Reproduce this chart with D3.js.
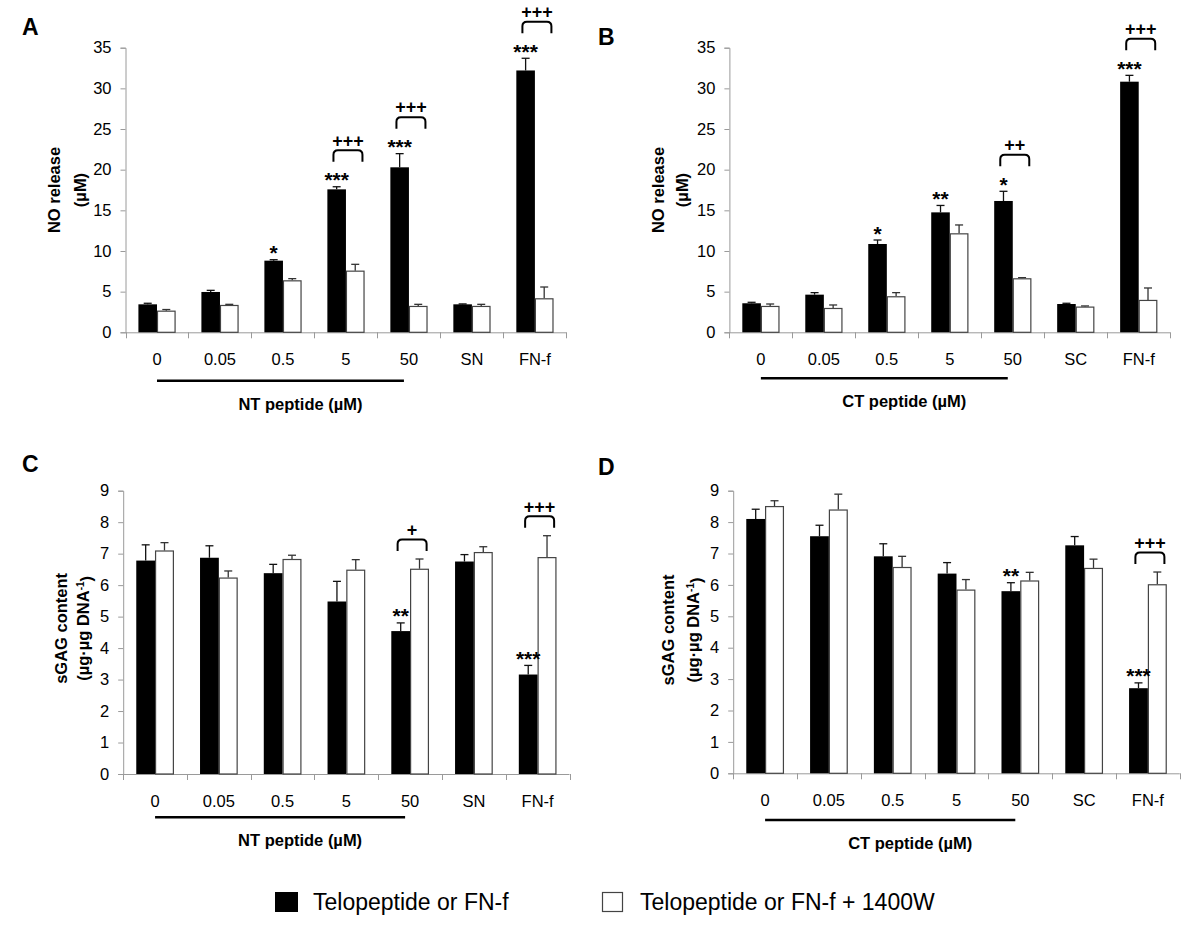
<!DOCTYPE html>
<html><head><meta charset="utf-8">
<script src="https://cdn.jsdelivr.net/npm/d3@7/dist/d3.min.js"></script>
<style>
body{margin:0;background:#fff;}
text{font-family:"Liberation Sans",Arial,Helvetica,sans-serif;fill:#000;}
</style>
</head><body>
<svg id="chart" width="1200" height="925"></svg>
<script>
// ---------- DATA ----------
const catsNT = ["0", "0.05", "0.5", "5", "50", "SN", "FN-f"];
const catsCT = ["0", "0.05", "0.5", "5", "50", "SC", "FN-f"];

const noTicks = [0, 5, 10, 15, 20, 25, 30, 35];
const gagTicks = [0, 1, 2, 3, 4, 5, 6, 7, 8, 9];

// Panel A: NO release, NT peptide
const aBlack = [3.44, 4.96, 8.81, 17.58, 20.29, 3.44, 32.2];
const aBlackErr = [0.13, 0.2, 0.12, 0.32, 1.68, 0.05, 1.5];
const aWhite = [2.66, 3.36, 6.39, 7.58, 3.24, 3.24, 4.18];
const aWhiteErr = [0.14, 0.08, 0.21, 0.78, 0.2, 0.2, 1.39];
const aStars = ["", "", "*", "***", "***", "", "***"];
const aPlus = ["", "", "", "+++", "+++", "", "+++"];

// Panel B: NO release, CT peptide
const bBlack = [3.57, 4.63, 10.86, 14.75, 16.15, 3.48, 30.82];
const bBlackErr = [0.12, 0.25, 0.49, 0.85, 1.19, 0.09, 0.78];
const bWhite = [3.24, 2.99, 4.43, 12.17, 6.64, 3.16, 3.98];
const bWhiteErr = [0.24, 0.37, 0.45, 1.03, 0.08, 0.08, 1.47];
const bStars = ["", "", "*", "**", "*", "", "***"];
const bPlus = ["", "", "", "", "++", "", "+++"];

// Panel C: sGAG content, NT peptide
const cBlack = [6.78, 6.87, 6.38, 5.48, 4.54, 6.75, 3.16];
const cBlackErr = [0.5, 0.38, 0.28, 0.64, 0.26, 0.22, 0.29];
const cWhite = [7.1, 6.24, 6.83, 6.49, 6.52, 7.05, 6.89];
const cWhiteErr = [0.25, 0.21, 0.12, 0.32, 0.31, 0.17, 0.68];
const cStars = ["", "", "", "", "**", "", "***"];
const cPlus = ["", "", "", "", "+", "", "+++"];

// Panel D: sGAG content, CT peptide
const dBlack = [8.1, 7.55, 6.91, 6.36, 5.8, 7.26, 2.71];
const dBlackErr = [0.31, 0.35, 0.4, 0.35, 0.27, 0.28, 0.17];
const dWhite = [8.51, 8.4, 6.57, 5.85, 6.14, 6.54, 6.02];
const dWhiteErr = [0.17, 0.49, 0.34, 0.32, 0.26, 0.28, 0.39];
const dStars = ["", "", "", "", "**", "", "***"];
const dPlus = ["", "", "", "", "", "", "+++"];

const legendLabels = ["Telopeptide or FN-f", "Telopeptide or FN-f + 1400W"];

// ---------- DRAW ----------
const svg = d3.select("#chart");
const AXIS = "#9a9a9a";
const FONT = "Liberation Sans, Arial, sans-serif";

function drawPanel(p) {
  const g = svg.append("g");
  const x = d3.scaleBand().domain(p.cats).range([p.x0, p.x1]).padding(0);
  const bw = x.bandwidth();
  const xs = d3.scaleBand().domain(["black", "white"]).range([bw * 0.205, bw * 0.795]).padding(0);
  const y = d3.scaleLinear().domain([0, p.max]).range([p.yZero, p.yTop]);

  // y axis
  const ya = g.append("g").attr("transform", `translate(${p.x0},0)`)
    .call(d3.axisLeft(y).tickValues(p.ticks).tickSize(5).tickPadding(9).tickFormat(d3.format("d")));
  ya.select(".domain").attr("stroke", AXIS);
  ya.selectAll(".tick line").attr("stroke", AXIS);
  ya.selectAll(".tick text").style("font-size", "16.5px").style("font-family", FONT).attr("fill", "#111");

  // x axis (labels)
  const xa = g.append("g").attr("transform", `translate(0,${p.yZero})`)
    .call(d3.axisBottom(x).tickSize(0).tickPadding(21));
  xa.select(".domain").remove();
  xa.selectAll(".tick text").style("font-size", "16.5px").style("font-family", FONT).attr("fill", "#111");
  // x axis line and boundary ticks
  g.append("line").attr("x1", p.x0).attr("x2", p.x1).attr("y1", p.yZero + 0.5).attr("y2", p.yZero + 0.5)
    .attr("stroke", AXIS);
  const bounds = p.cats.map(c => x(c)).concat([p.x1]);
  g.selectAll(".bt").data(bounds).enter().append("line")
    .attr("x1", d => Math.round(d) + 0.5).attr("x2", d => Math.round(d) + 0.5)
    .attr("y1", p.yZero).attr("y2", p.yZero + 6).attr("stroke", AXIS);

  const rows = p.cats.map((c, i) => ({c, i, b: p.black[i], be: p.blackErr[i], w: p.white[i], we: p.whiteErr[i], s: p.stars[i], pl: p.plus[i]}));

  function errBar(cx, v, e, color) {
    g.append("line").attr("x1", cx).attr("x2", cx).attr("y1", y(v)).attr("y2", y(v + e)).attr("stroke", color).attr("stroke-width", 1.3);
    g.append("line").attr("x1", cx - 4).attr("x2", cx + 4).attr("y1", y(v + e)).attr("y2", y(v + e)).attr("stroke", color).attr("stroke-width", 1.3);
  }
  rows.forEach(r => {
    const xb = x(r.c) + xs("black"), xw = x(r.c) + xs("white");
    errBar(xb + xs.bandwidth() / 2, r.b, r.be, "#111");
    errBar(xw + xs.bandwidth() / 2, r.w, r.we, "#333");
  });
  // bars
  g.selectAll(".bb").data(rows).enter().append("rect")
    .attr("x", d => x(d.c) + xs("black")).attr("width", xs.bandwidth())
    .attr("y", d => y(d.b)).attr("height", d => p.yZero - y(d.b)).attr("fill", "#000");
  g.selectAll(".wb").data(rows).enter().append("rect")
    .attr("x", d => x(d.c) + xs("white") + 0.5).attr("width", xs.bandwidth() - 1)
    .attr("y", d => y(d.w) + 0.5).attr("height", d => p.yZero - y(d.w) - 0.5)
    .attr("fill", "#fff").attr("stroke", "#444").attr("stroke-width", 1.2);

  // annotations
  rows.forEach(r => {
    const cxB = x(r.c) + xs("black") + xs.bandwidth() / 2;
    const cxC = x(r.c) + bw / 2 + 2;
    const bTop = y(r.b + r.be), wTop = y(r.w + r.we);
    let starC = null;
    if (r.s) {
      starC = bTop - 11;
      g.append("text").attr("x", cxB).attr("y", starC + 0.55 * 21).attr("text-anchor", "middle")
        .style("font-size", "21px").style("font-weight", "bold").text(r.s);
    }
    if (r.pl) {
      let yb = Math.min(wTop - 8, bTop - 8);
      if (starC !== null) yb = Math.min(yb, starC - 14);
      const yt = yb - 11.5, xl = cxC - 14.5, xr = cxC + 14.5, rr = 4.5;
      g.append("path")
        .attr("d", `M${xl},${yb} L${xl},${yt + rr} Q${xl},${yt} ${xl + rr},${yt} L${xr - rr},${yt} Q${xr},${yt} ${xr},${yt + rr} L${xr},${yb}`)
        .attr("fill", "none").attr("stroke", "#000").attr("stroke-width", 2);
      g.append("text").attr("x", cxC).attr("y", yt - 10 + 0.35 * 18).attr("text-anchor", "middle")
        .style("font-size", "18px").style("font-weight", "bold").text(r.pl);
    }
  });

  // underline + x title
  const ux1 = x(p.cats[0]) + bw / 2, ux2 = x(p.cats[4]) + bw / 2 - 5;
  g.append("line").attr("x1", ux1).attr("x2", ux2).attr("y1", p.yZero + p.ulOff).attr("y2", p.yZero + p.ulOff)
    .attr("stroke", "#000").attr("stroke-width", 2.4);
  g.append("text").attr("x", (ux1 + ux2) / 2 + 20).attr("y", p.yZero + p.titleOff + 5.5)
    .attr("text-anchor", "middle").style("font-size", "16.5px").style("font-weight", "bold").text(p.xTitle);

  // y title (two lines)
  const ym = (p.yZero + p.yTop) / 2 + p.yTitleShift;
  g.append("text").attr("transform", `translate(${p.x0 - p.yt1},${ym}) rotate(-90)`)
    .attr("text-anchor", "middle").attr("dy", "0.35em").style("font-size", "16.5px").style("font-weight", "bold").text(p.yTitle1);
  const t2 = g.append("text").attr("transform", `translate(${p.x0 - p.yt2},${ym}) rotate(-90)`)
    .attr("text-anchor", "middle").attr("dy", "0.35em").style("font-size", "16.5px").style("font-weight", "bold");
  p.yTitle2(t2);

  // panel letter
  g.append("text").attr("x", p.lx).attr("y", p.ly).style("font-size", "23px").style("font-weight", "bold").text(p.letter);
}

const noUnit = t => t.text("(µM)");
const gagUnit = t => { t.append("tspan").text("(µg·µg DNA"); t.append("tspan").attr("dy", "-0.45em").style("font-size", "10px").text("-1"); t.append("tspan").attr("dy", "0.45em").text(")"); };

drawPanel({cats: catsNT, x0: 125.5, x1: 566.4, yZero: 332.3, yTop: 47.7, max: 35, ticks: noTicks,
  black: aBlack, blackErr: aBlackErr, white: aWhite, whiteErr: aWhiteErr, stars: aStars, plus: aPlus,
  ulOff: 48.4, titleOff: 71.7, xTitle: "NT peptide (µM)", yTitle1: "NO release", yTitle2: noUnit,
  yt1: 71, yt2: 45, yTitleShift: 0, letter: "A", lx: 22, ly: 35});
drawPanel({cats: catsCT, x0: 729.4, x1: 1170.2, yZero: 332.3, yTop: 47.7, max: 35, ticks: noTicks,
  black: bBlack, blackErr: bBlackErr, white: bWhite, whiteErr: bWhiteErr, stars: bStars, plus: bPlus,
  ulOff: 46, titleOff: 69.4, xTitle: "CT peptide (µM)", yTitle1: "NO release", yTitle2: noUnit,
  yt1: 71, yt2: 47.5, yTitleShift: 0, letter: "B", lx: 598, ly: 45});
drawPanel({cats: catsNT, x0: 123.2, x1: 569.5, yZero: 774, yTop: 490.7, max: 9, ticks: gagTicks,
  black: cBlack, blackErr: cBlackErr, white: cWhite, whiteErr: cWhiteErr, stars: cStars, plus: cPlus,
  ulOff: 43.3, titleOff: 66.7, xTitle: "NT peptide (µM)", yTitle1: "sGAG content", yTitle2: gagUnit,
  yt1: 62, yt2: 40, yTitleShift: -4, letter: "C", lx: 22, ly: 471.7});
drawPanel({cats: catsCT, x0: 733.2, x1: 1179.8, yZero: 773.3, yTop: 490.7, max: 9, ticks: gagTicks,
  black: dBlack, blackErr: dBlackErr, white: dWhite, whiteErr: dWhiteErr, stars: dStars, plus: dPlus,
  ulOff: 46.7, titleOff: 70, xTitle: "CT peptide (µM)", yTitle1: "sGAG content", yTitle2: gagUnit,
  yt1: 65, yt2: 40, yTitleShift: -2, letter: "D", lx: 598, ly: 475});

// legend
const leg = svg.append("g");
leg.append("rect").attr("x", 275).attr("y", 892).attr("width", 23).attr("height", 20).attr("fill", "#000");
leg.append("text").attr("x", 313).attr("y", 910).style("font-size", "23px").text(legendLabels[0]);
leg.append("rect").attr("x", 602.5).attr("y", 892.5).attr("width", 20).attr("height", 19).attr("fill", "#fff").attr("stroke", "#444").attr("stroke-width", 1.2);
leg.append("text").attr("x", 640).attr("y", 910).style("font-size", "23px").text(legendLabels[1]);
</script>
</body></html>
